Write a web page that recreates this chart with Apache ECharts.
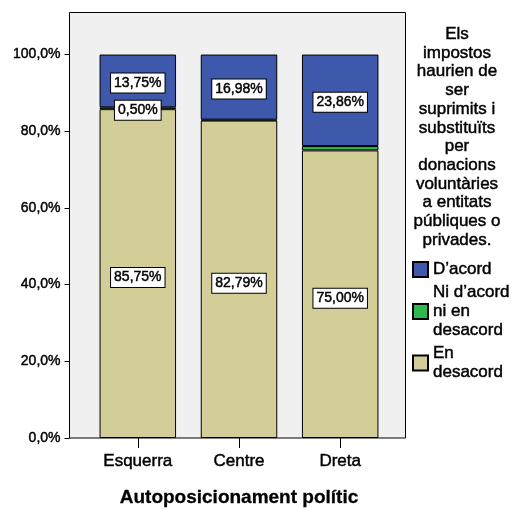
<!DOCTYPE html>
<html>
<head>
<meta charset="utf-8">
<script src="https://cdn.jsdelivr.net/npm/echarts@6/dist/echarts.min.js"></script>
<style>
html,body{margin:0;padding:0;background:#fff;}
#c{width:513px;height:508px;}
</style>
</head>
<body>
<div id="c"></div>
<script>
var categories = ['Esquerra', 'Centre', 'Dreta'];
var enDesacord = [85.75, 82.79, 75.00];
var niNi = [0.50, 0.23, 1.14];
var dAcord = [13.75, 16.98, 23.86];
var niNiLabelShown = [true, false, false];
var yTicks = [0, 20, 40, 60, 80, 100];
var seriesNames = ['D\u2019acord', 'Ni d\u2019acord\nni en\ndesacord', 'En\ndesacord'];
var legendTitle = 'Els\nimpostos\nhaurien de\nser\nsuprimits i\nsubstitu\u00efts\nper\ndonacions\nvolunt\u00e0ries\na entitats\np\u00fabliques o\nprivades.';
var axisTitle = 'Autoposicionament pol\u00edtic';

var FONT = '"Liberation Sans", Arial, sans-serif';
var HEAVY = {textBorderColor: '#000', textBorderWidth: 0.45};
function pct2(v){ return v.toFixed(2).replace('.', ',') + '%'; }
var labelBox = Object.assign({
  show: true, position: 'inside', color: '#000', fontFamily: FONT, fontSize: 14,
  backgroundColor: '#fff', borderColor: '#000', borderWidth: 1, padding: [3, 3, 2, 3],
  formatter: function(p){ return pct2(p.value); }
}, HEAVY);

var chart = echarts.init(document.getElementById('c'), null, {renderer: 'canvas'});
chart.setOption({
  animation: false,
  backgroundColor: '#fff',
  textStyle: {fontFamily: FONT},
  grid: {left: 87.2, right: 122.2, top: 12, bottom: 70, containLabel: false, outerBoundsMode: 'none'},
  graphic: [{
    type: 'rect', z: 0, silent: true,
    shape: {x: 69.5, y: 12.5, width: 336, height: 425.5},
    style: {fill: '#f0f0f0', stroke: '#000', lineWidth: 1}
  }],
  title: {
    text: legendTitle, left: 457, top: 25, textAlign: 'center', padding: 0,
    textStyle: Object.assign({fontFamily: FONT, fontSize: 17, fontWeight: 'normal', lineHeight: 18.7, color: '#000', align: 'center'}, HEAVY)
  },
  legend: {
    orient: 'vertical', left: 412, top: 260, padding: 0, itemGap: 4,
    itemWidth: 15, itemHeight: 15, icon: 'rect',
    data: seriesNames,
    textStyle: Object.assign({fontFamily: FONT, fontSize: 17, lineHeight: 19, color: '#000'}, HEAVY)
  },
  xAxis: {
    type: 'category', data: categories,
    axisLine: {show: false},
    axisTick: {show: true, alignWithLabel: true, length: 10, lineStyle: {color: '#000'}},
    axisLabel: Object.assign({color: '#000', fontFamily: FONT, fontSize: 17, margin: 15}, HEAVY),
    name: axisTitle, nameLocation: 'middle', nameGap: 50,
    nameTextStyle: {fontFamily: FONT, fontSize: 19, fontWeight: 'bold', color: '#000', textBorderColor: '#000', textBorderWidth: 0.3}
  },
  yAxis: {
    type: 'value', min: 0, max: 111.1, interval: 20, offset: 17.7,
    axisLine: {show: false},
    splitLine: {show: false},
    axisTick: {show: true, length: 5, lineStyle: {color: '#000'}, customValues: yTicks},
    axisLabel: Object.assign({color: '#000', fontFamily: FONT, fontSize: 14, margin: 9, customValues: yTicks,
      formatter: function(v){ return v.toFixed(1).replace('.', ',') + '%'; }}, HEAVY)
  },
  series: [
    {
      name: seriesNames[2], type: 'bar', stack: 's', barWidth: 76.5,
      itemStyle: {color: '#d3ce97', borderColor: '#000', borderWidth: 1},
      label: Object.assign({}, labelBox, {offset: [0, 4]}), data: enDesacord
    },
    {
      name: seriesNames[1], type: 'bar', stack: 's', barWidth: 76.5,
      itemStyle: {color: '#2eb84d', borderColor: '#000', borderWidth: 1},
      label: Object.assign({}, labelBox, {show: false, offset: [0, 2]}),
      data: niNi.map(function(v, i){ return {value: v, label: {show: niNiLabelShown[i]}}; })
    },
    {
      name: seriesNames[0], type: 'bar', stack: 's', barWidth: 76.5,
      itemStyle: {color: '#3e58ac', borderColor: '#000', borderWidth: 1},
      label: Object.assign({}, labelBox, {offset: [0, 2]}), data: dAcord
    }
  ]
});
</script>
</body>
</html>
